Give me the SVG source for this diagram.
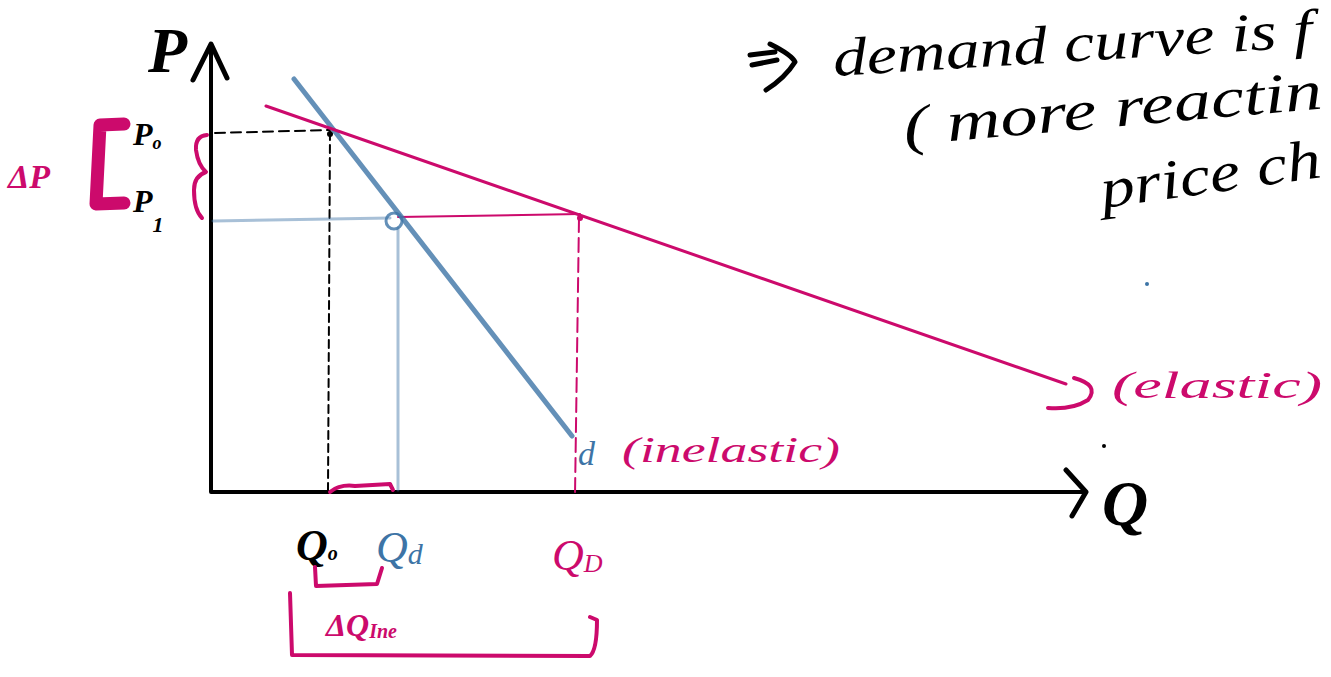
<svg xmlns="http://www.w3.org/2000/svg" width="1331" height="677" viewBox="0 0 1331 677">
<style>
.ink{fill:none;stroke:#000;stroke-linecap:round;stroke-linejoin:round}
.pk{fill:none;stroke:#cc0a6c;stroke-linecap:round;stroke-linejoin:round}
.bl{fill:none;stroke:#3d74a6;stroke-linecap:round;stroke-linejoin:round}
.t{font-family:"Liberation Serif",serif;font-style:italic}
.tb{fill:#000}.tp{fill:#cc0a6c}.tbl{fill:#3d74a6}
</style>
<rect width="1331" height="677" fill="#fff"/>
<g id="axes">
<path class="ink" stroke-width="4" d="M211 47 L211 492 L1085 492"/>
<path class="ink" stroke-width="5" d="M193 80 L211 44 L227 78"/>
<path class="ink" stroke-width="5" d="M1066 470 L1086 492 L1072 516"/>
<text class="t tb" x="148" y="72" font-size="64" font-weight="bold">P</text>
<text class="t tb" x="1102" y="525" font-size="64" font-weight="bold">Q</text>
</g>
<g id="connectors">
<path class="ink" stroke-width="2" stroke-dasharray="10 6" d="M215 133 L330 130"/>
<path class="ink" stroke-width="2" stroke-dasharray="8 5" d="M330 132 L328 490"/>
<circle cx="330" cy="134" r="3" fill="#000"/>
<path class="bl" stroke-width="3" opacity="0.45" d="M213 221 L390 218"/>
<path class="bl" stroke-width="3" opacity="0.45" d="M398 228 L398 490"/>
<path class="pk" stroke-width="2" d="M398 217 L580 214"/>
<path class="pk" stroke-width="2" stroke-dasharray="14 6" d="M579 218 L575 495"/>
<circle cx="580" cy="218" r="3" fill="#cc0a6c"/>
</g>
<g id="demand-inelastic">
<path class="bl" stroke-width="5" opacity="0.8" d="M294 79 L572 436"/>
<circle class="bl" stroke-width="3" cx="394" cy="221" r="8" opacity="0.8"/>
<text class="t tbl" x="578" y="465" font-size="34">d</text>
<text class="t tp" x="622" y="462" font-size="36" textLength="218" lengthAdjust="spacingAndGlyphs">(inelastic)</text>
</g>
<g id="demand-elastic">
<path class="pk" stroke-width="3" d="M266 106 L1066 384"/>
<path class="pk" stroke-width="4" d="M1074 378 Q1100 385 1088 400 Q1072 410 1048 408"/>
<text class="t tp" x="1112" y="398" font-size="38" textLength="210" lengthAdjust="spacingAndGlyphs">(elastic)</text>
</g>
<g id="price-labels">
<text class="t tp" x="8" y="188" font-size="34" font-weight="bold">ΔP</text>
<path class="pk" stroke-width="13" d="M124 124 L100 125 L96 204 L124 203"/>
<text class="t tb" x="133" y="145" font-size="32" font-weight="bold">P<tspan font-size="18" dy="4">o</tspan></text>
<text class="t tb" x="133" y="212" font-size="32" font-weight="bold">P<tspan font-size="22" dy="20">1</tspan></text>
<path class="pk" stroke-width="4" d="M207 135 Q195 136 196 150 Q198 165 206 172 Q194 176 194 190 Q194 210 202 218"/>
</g>
<g id="quantity-labels">
<path class="pk" stroke-width="4" d="M330 492 Q340 484 355 486 L390 484 L393 490"/>
<text class="t tb" x="296" y="560" font-size="44" font-weight="bold">Q<tspan font-size="20">o</tspan></text>
<text class="t tbl" x="376" y="562" font-size="44">Q<tspan font-size="30" dy="2">d</tspan></text>
<text class="t tp" x="552" y="570" font-size="44">Q<tspan font-size="26" dy="2">D</tspan></text>
<path class="pk" stroke-width="4" d="M315 567 L316 586 L377 584 L382 568"/>
<text class="t tp" x="326" y="636" font-size="32" font-weight="bold">ΔQ<tspan font-size="20" dy="2">Ine</tspan></text>
<path class="pk" stroke-width="4" d="M290 593 L292 655 L590 656 Q597 650 597 620 L590 617"/>
</g>
<g id="note">
<path class="ink" stroke-width="5" d="M750 55 L775 52 M752 65 L777 60 M770 44 Q792 55 795 62 Q785 78 766 90"/>
<text class="t tb" x="834" y="76" font-size="54" textLength="480" lengthAdjust="spacingAndGlyphs" transform="rotate(-3.5 834 76)">demand curve is f</text>
<text class="t tb" x="905" y="145" font-size="56" textLength="420" lengthAdjust="spacingAndGlyphs" transform="rotate(-5 905 145)">( more reactin</text>
<text class="t tb" x="1103" y="208" font-size="56" textLength="222" lengthAdjust="spacingAndGlyphs" transform="rotate(-8 1103 208)">price ch</text>
<circle cx="1147" cy="284" r="2" fill="#3d74a6"/>
<circle cx="1104" cy="446" r="2" fill="#000"/>
</g>
</svg>
